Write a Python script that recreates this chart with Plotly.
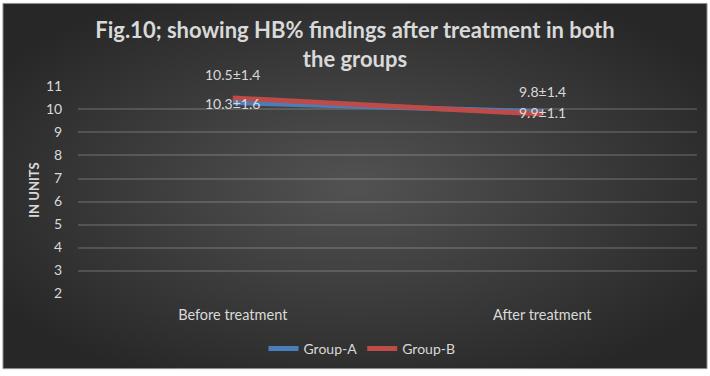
import plotly.graph_objects as go
import urllib.parse

categories = ["Before treatment", "After treatment"]
group_a = [10.3, 9.9]
group_b = [10.5, 9.8]
labels_a = ["10.3±1.6", "9.9±1.1"]
labels_b = ["10.5±1.4", "9.8±1.4"]
y_ticks = [2, 3, 4, 5, 6, 7, 8, 9, 10, 11]

FONT = "Lato"
TXT = "#d9d9d9"

svg = (
    "<svg xmlns='http://www.w3.org/2000/svg' width='704' height='367' viewBox='0 0 704 367'>"
    "<defs><radialGradient id='g' cx='50%' cy='50%' r='60%'>"
    "<stop offset='0%' stop-color='#525252'/>"
    "<stop offset='100%' stop-color='#272727'/>"
    "</radialGradient></defs>"
    "<rect width='704' height='367' fill='url(#g)'/></svg>"
)
bg_src = "data:image/svg+xml;charset=utf-8," + urllib.parse.quote(svg)

fig = go.Figure()
fig.add_trace(go.Scatter(
    x=categories, y=group_a, name="Group-A", mode="lines",
    line=dict(color="#4a7ebb", width=5),
))
fig.add_trace(go.Scatter(
    x=categories, y=group_b, name="Group-B", mode="lines",
    line=dict(color="#be4b48", width=5),
))

annotations = []
for c, v, t in zip(categories, group_a, labels_a):
    annotations.append(dict(x=c, y=v, text=t, showarrow=False, yshift=-1,
                            font=dict(family=FONT, size=14, color=TXT)))
for c, v, t in zip(categories, group_b, labels_b):
    annotations.append(dict(x=c, y=v, text=t, showarrow=False, yshift=23,
                            font=dict(family=FONT, size=14, color=TXT)))

W, H = 710, 376
fig.update_layout(
    width=W, height=H,
    paper_bgcolor="white",
    plot_bgcolor="rgba(0,0,0,0)",
    margin=dict(l=78, r=13, t=86, b=81),
    font=dict(family=FONT, color=TXT),
    title=dict(
        text="<b>Fig.10; showing HB% findings after treatment in both<br>the groups</b>",
        x=0.5, xanchor="center", y=1 - 38 / H, yanchor="middle",
        font=dict(family=FONT, size=22, color=TXT),
    ),
    annotations=annotations,
    showlegend=True,
    legend=dict(
        orientation="h", x=(362 - 78) / 619, xanchor="center",
        y=-(349 - 295) / 209, yanchor="middle",
        font=dict(family=FONT, size=14, color=TXT), bgcolor="rgba(0,0,0,0)",
        itemwidth=30,
    ),
    images=[dict(
        source=bg_src, xref="paper", yref="paper",
        x=-75 / 619, y=1 + 83 / 209, sizex=704 / 619, sizey=367 / 209,
        xanchor="left", yanchor="top", sizing="stretch", layer="below",
    )],
    shapes=[dict(
        type="rect", xref="paper", yref="paper",
        x0=-75 / 619, x1=1 + 10 / 619, y0=-(370 - 295) / 209, y1=1 + 83 / 209,
        line=dict(color="#8c8c8c", width=1), fillcolor="rgba(0,0,0,0)", layer="below",
    )],
    xaxis=dict(
        showgrid=False, zeroline=False, showline=False,
        ticks="outside", ticklen=8, tickcolor="rgba(0,0,0,0)",
        tickfont=dict(family=FONT, size=14.5, color=TXT),
        range=[-0.5, 1.5],
    ),
    yaxis=dict(
        range=[1.98, 11.02], tickvals=y_ticks,
        showgrid=True, gridcolor="rgba(255,255,255,0.15)", gridwidth=1.5,
        zeroline=False, showline=False,
        ticks="outside", ticklen=12, tickcolor="rgba(0,0,0,0)",
        tickfont=dict(family=FONT, size=14, color=TXT),
        title=dict(text="<b>IN UNITS</b>", standoff=3,
                   font=dict(family=FONT, size=13, color=TXT)),
    ),
)

fig.write_html("out.html")
